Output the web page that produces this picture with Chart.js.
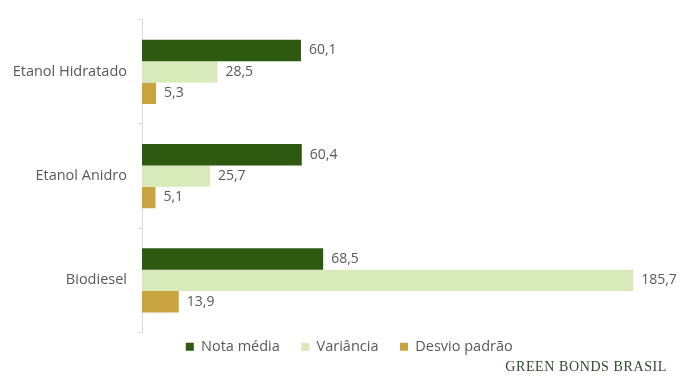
<!DOCTYPE html>
<html lang="pt-BR">
<head>
<meta charset="utf-8">
<title>Nota média, variância e desvio padrão por combustível</title>
<script src="https://cdn.jsdelivr.net/npm/chart.js@4/dist/chart.umd.min.js"></script>
<style>
  html, body { margin: 0; padding: 0; background: #ffffff; }
  #wrap { position: relative; width: 683px; height: 376px; }
  #chart { display: block; }
  #brand {
    position: absolute; right: 16px; top: 359px;
    font-family: "Liberation Serif", "DejaVu Serif", serif;
    font-size: 14px; letter-spacing: 0.6px; color: #2f4a2a;
    white-space: nowrap;
  }
</style>
</head>
<body>
<div id="wrap">
  <canvas id="chart" width="683" height="376"></canvas>
  <div id="brand">GREEN BONDS BRASIL</div>
</div>
<script>
// Combustíveis avaliados
const categories = ["Etanol Hidratado", "Etanol Anidro", "Biodiesel"];

// Estatísticas por combustível
const notaMedia = [60.1, 60.4, 68.5];
const variancia = [28.5, 25.7, 185.7];
const desvioPadrao = [5.3, 5.1, 13.9];

const seriesNames = ["Nota média", "Variância", "Desvio padrão"];
const seriesColors = ["#2d5a10", "#d8eab9", "#c9a440"];

const FONT = "'Open Sans', 'Liberation Sans', sans-serif";
const TEXT = "#595959";

// Escreve o valor de cada barra logo após a sua extremidade
const valueLabels = {
  id: "valueLabels",
  afterDatasetsDraw(chart) {
    const ctx = chart.ctx;
    ctx.save();
    ctx.font = "14px " + FONT;
    ctx.fillStyle = TEXT;
    ctx.textAlign = "left";
    ctx.textBaseline = "middle";
    chart.data.datasets.forEach((ds, di) => {
      chart.getDatasetMeta(di).data.forEach((bar, i) => {
        const txt = ds.data[i].toFixed(1).replace(".", ",");
        ctx.fillText(txt, bar.x + 8, bar.y);
      });
    });
    ctx.restore();
  }
};

// Centraliza a legenda sob a área das barras, e não sob o canvas inteiro
const legendUnderPlot = {
  id: "legendUnderPlot",
  beforeDraw(chart) {
    const lg = chart.legend;
    if (!lg) return;
    lg.left = 42;
    lg.right = 671;
  }
};

new Chart(document.getElementById("chart"), {
  type: "bar",
  data: {
    labels: categories,
    datasets: [notaMedia, variancia, desvioPadrao].map((d, k) => ({
      label: seriesNames[k],
      data: d,
      backgroundColor: seriesColors[k],
      borderWidth: 0,
      categoryPercentage: 0.615,
      barPercentage: 1.0
    }))
  },
  options: {
    indexAxis: "y",
    responsive: false,
    animation: false,
    layout: { padding: { top: 14, right: 12, left: 0, bottom: 12 } },
    scales: {
      x: {
        display: false,
        min: 0,
        max: 200
      },
      y: {
        afterFit(scale) { scale.width = 142; },
        border: { display: true, color: "#d9d9d9", width: 1 },
        grid: {
          display: true,
          offset: true,
          drawOnChartArea: false,
          drawTicks: true,
          tickLength: 4,
          color: "#d9d9d9"
        },
        ticks: {
          color: TEXT,
          padding: 11,
          font: { family: FONT, size: 14.5 }
        }
      }
    },
    plugins: {
      legend: {
        position: "bottom",
        labels: {
          color: TEXT,
          boxWidth: 8,
          boxHeight: 8,
          padding: 7,
          font: { family: FONT, size: 14.5 },
          // extra spacing after each entry
          generateLabels(chart) {
            const items = Chart.defaults.plugins.legend.labels.generateLabels(chart);
            items.forEach(it => { it.text = it.text + "\u2002\u2002"; });
            return items;
          }
        }
      },
      tooltip: { enabled: false }
    }
  },
  plugins: [valueLabels, legendUnderPlot]
});
</script>
</body>
</html>
